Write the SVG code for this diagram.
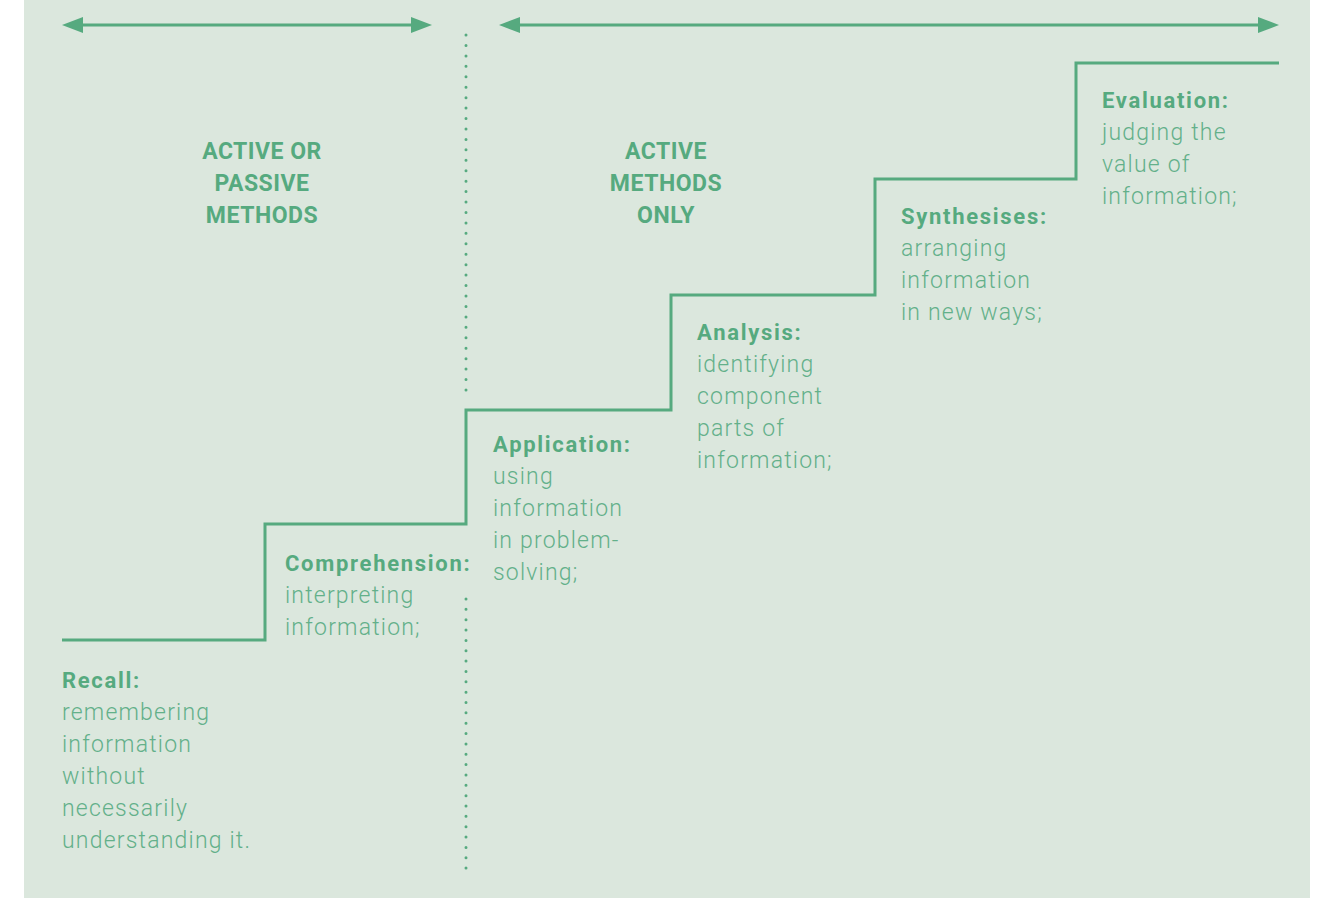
<svg xmlns="http://www.w3.org/2000/svg" width="1324" height="898" viewBox="0 0 1324 898">
<style>
.bg{fill:#dbe7dd}
.ln{fill:none;stroke:#56aa7f;stroke-width:3}
.dot{fill:none;stroke:#56aa7f;stroke-width:3;stroke-linecap:round}
.hd{font-family:Roboto,"Liberation Sans",sans-serif;font-weight:700;font-size:23px;fill:#56aa7f;text-anchor:middle;letter-spacing:0.5px}
.tt{font-family:Roboto,"Liberation Sans",sans-serif;font-weight:700;font-size:22px;fill:#56aa7f;letter-spacing:1.7px}
.bd{font-family:Roboto,"Liberation Sans",sans-serif;font-weight:300;font-size:23px;fill:#63b08a;letter-spacing:1.2px}
</style>
<defs>
<marker id="ah" markerUnits="userSpaceOnUse" markerWidth="21" markerHeight="16" refX="2" refY="8" orient="auto-start-reverse">
<path d="M0,0 L21,8 L0,16 z" fill="#56aa7f"/>
</marker>
</defs>
<rect class="bg" x="24" y="0" width="1286" height="898"/>
<g id="connectors">
<line class="ln" x1="81" y1="25" x2="413" y2="25" marker-start="url(#ah)" marker-end="url(#ah)"/>
<line class="ln" x1="518" y1="25" x2="1260" y2="25" marker-start="url(#ah)" marker-end="url(#ah)"/>
<line class="dot" x1="466" y1="35" x2="466" y2="391" stroke-dasharray="0 10.44"/>
<line class="dot" x1="466" y1="599" x2="466" y2="870" stroke-dasharray="0 10.35"/>
<path class="ln" d="M62,640 H265 V524 H466 V410 H671 V295 H875 V179 H1076 V63 H1279"/>
</g>
<g id="head-left">
<text class="hd" x="262" y="159">ACTIVE OR</text>
<text class="hd" x="262" y="191">PASSIVE</text>
<text class="hd" x="262" y="223">METHODS</text>
</g>
<g id="head-right">
<text class="hd" x="666" y="159">ACTIVE</text>
<text class="hd" x="666" y="191">METHODS</text>
<text class="hd" x="666" y="223">ONLY</text>
</g>
<g id="recall">
<text class="tt" x="62" y="688">Recall:</text>
<text class="bd" x="62" y="720">remembering</text>
<text class="bd" x="62" y="752">information</text>
<text class="bd" x="62" y="784">without</text>
<text class="bd" x="62" y="816">necessarily</text>
<text class="bd" x="62" y="848">understanding it.</text>
</g>
<g id="comprehension">
<text class="tt" x="285" y="571">Comprehension:</text>
<text class="bd" x="285" y="603">interpreting</text>
<text class="bd" x="285" y="635">information;</text>
</g>
<g id="application">
<text class="tt" x="493" y="452">Application:</text>
<text class="bd" x="493" y="484">using</text>
<text class="bd" x="493" y="516">information</text>
<text class="bd" x="493" y="548">in problem-</text>
<text class="bd" x="493" y="580">solving;</text>
</g>
<g id="analysis">
<text class="tt" x="697" y="340">Analysis:</text>
<text class="bd" x="697" y="372">identifying</text>
<text class="bd" x="697" y="404">component</text>
<text class="bd" x="697" y="436">parts of</text>
<text class="bd" x="697" y="468">information;</text>
</g>
<g id="synthesises">
<text class="tt" x="901" y="224">Synthesises:</text>
<text class="bd" x="901" y="256">arranging</text>
<text class="bd" x="901" y="288">information</text>
<text class="bd" x="901" y="320">in new ways;</text>
</g>
<g id="evaluation">
<text class="tt" x="1102" y="108">Evaluation:</text>
<text class="bd" x="1102" y="140">judging the</text>
<text class="bd" x="1102" y="172">value of</text>
<text class="bd" x="1102" y="204">information;</text>
</g>
</svg>
